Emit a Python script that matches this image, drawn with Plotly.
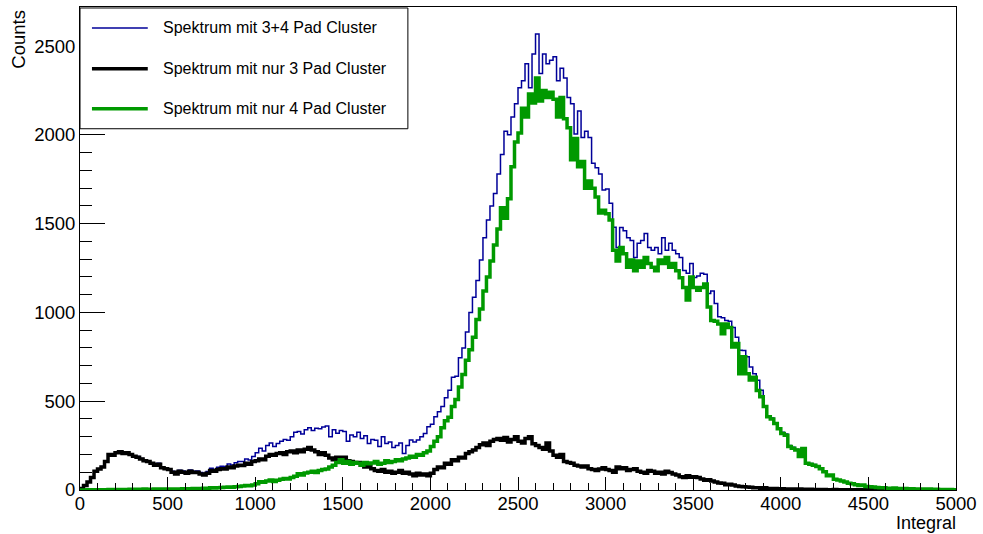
import numpy as np
import plotly.graph_objects as go

# Histogram: 250 bins of width 20 from 0 to 5000
bin_width = 20
x_min, x_max = 0, 5000

spec_34 = [
    8, 25, 46, 71, 107, 119, 132, 162, 203, 197,
    213, 217, 208, 213, 204, 193, 189, 178, 170, 164,
    154, 145, 150, 129, 126, 120, 106, 95, 111, 107,
    101, 112, 106, 107, 99, 95, 104, 122, 116, 128,
    134, 133, 147, 141, 154, 160, 160, 175, 169, 188,
    210, 235, 220, 250, 265, 245, 262, 275, 285, 280,
    300, 325, 330, 315, 340, 350, 335, 348, 345, 355,
    360, 300, 340, 320, 335, 330, 275, 310, 300, 325,
    290, 305, 262, 285, 280, 245, 300, 262, 270, 240,
    250, 265, 206, 250, 281, 270, 281, 300, 318, 356,
    370, 412, 440, 470, 520, 562, 635, 640, 745, 800,
    890, 1000, 1085, 1180, 1295, 1420, 1520, 1600, 1670, 1780,
    1890, 2020, 2000, 2100, 2175, 2265, 2305, 2400, 2265, 2455,
    2568, 2345, 2455, 2400, 2420, 2440, 2305, 2375, 2320, 2210,
    2175, 2005, 2135, 1985, 2020, 1985, 1840, 1815, 1780, 1690,
    1695, 1615, 1480, 1365, 1478, 1460, 1420, 1405, 1310, 1390,
    1405, 1445, 1365, 1350, 1365, 1330, 1420, 1350, 1390, 1350,
    1330, 1310, 1236, 1220, 1276, 1197, 1205, 1220, 1215, 1107,
    1120, 1050, 975, 970, 955, 950, 915, 860, 787, 785,
    750, 693, 655, 618, 562, 470, 415, 405, 378, 350,
    325, 315, 250, 241, 229, 193, 238, 153, 149, 143,
    135, 122, 106, 82, 86, 63, 57, 52, 47, 39,
    36, 32, 27, 29, 21, 18, 18, 15, 12, 14,
    10, 10, 11, 8, 8, 8, 6, 7, 6, 6,
    5, 4, 5, 3, 4, 3, 3, 2, 3, 2,
]

spec_3 = [
    8, 25, 45, 70, 105, 118, 130, 160, 200, 195,
    210, 215, 205, 210, 200, 190, 185, 175, 165, 160,
    150, 140, 145, 125, 120, 115, 100, 90, 105, 100,
    95, 105, 98, 100, 90, 85, 95, 110, 105, 115,
    120, 118, 130, 125, 135, 140, 138, 150, 145, 160,
    165, 175, 170, 190, 200, 195, 205, 210, 200, 215,
    220, 210, 225, 215, 230, 240, 225, 215, 200, 210,
    195, 180, 170, 185, 175, 185, 165, 160, 150, 155,
    140, 130, 135, 120, 110, 105, 115, 100, 105, 95,
    100, 110, 95, 100, 90, 80, 95, 85, 90, 80,
    95, 115, 130, 125, 150, 145, 170, 165, 185, 180,
    205, 215, 225, 240, 255, 265, 250, 275, 285, 290,
    280, 295, 270, 285, 300, 275, 265, 290, 300, 260,
    250, 240, 230, 265, 220, 195, 185, 200, 160, 155,
    150, 140, 135, 130, 135, 120, 115, 110, 118, 125,
    115, 110, 100, 130, 120, 125, 110, 115, 120, 105,
    100, 95, 110, 105, 95, 100, 90, 105, 98, 90,
    85, 75, 70, 80, 72, 75, 70, 62, 55, 58,
    50, 45, 40, 38, 30, 32, 28, 22, 20, 18,
    17, 15, 13, 12, 10, 12, 9, 8, 9, 7,
    7, 6, 5, 6, 4, 5, 4, 3, 4, 3,
    3, 2, 3, 2, 2, 3, 1, 2, 2, 1,
    1, 2, 1, 1, 1, 0, 1, 1, 0, 1,
    0, 1, 0, 0, 1, 0, 0, 0, 1, 0,
    0, 0, 0, 0, 0, 0, 0, 0, 0, 0,
]

spec_4 = [
    0, 0, 1, 1, 2, 1, 2, 2, 3, 2,
    3, 2, 3, 3, 4, 3, 4, 3, 5, 4,
    4, 5, 5, 4, 6, 5, 6, 5, 6, 7,
    6, 7, 8, 7, 9, 10, 9, 12, 11, 13,
    14, 15, 17, 16, 19, 20, 22, 25, 24, 28,
    35, 47, 44, 50, 56, 48, 55, 60, 65, 62,
    70, 78, 92, 85, 96, 100, 105, 98, 110, 115,
    118, 130, 140, 155, 170, 150, 160, 145, 155, 150,
    140, 155, 148, 152, 160, 145, 150, 165, 155, 160,
    170, 165, 175, 180, 190, 185, 200, 195, 210, 220,
    245, 275, 300, 350, 390, 410, 470, 510, 580, 650,
    730, 790, 860, 960, 1020, 1120, 1200, 1290, 1380, 1470,
    1590, 1530, 1640, 1820, 1960, 2010, 2150, 2100, 2230, 2180,
    2320, 2190, 2250, 2210, 2240, 2200, 2100, 2210, 2090, 2040,
    1860, 1980, 1820, 1850, 1700, 1740, 1700, 1650, 1560, 1575,
    1555, 1520, 1350, 1290, 1365, 1330, 1255, 1295, 1235, 1290,
    1255, 1310, 1275, 1255, 1235, 1295, 1275, 1310, 1255, 1275,
    1235, 1195, 1140, 1070, 1200, 1140, 1125, 1140, 1160, 1030,
    955, 950, 935, 880, 935, 915, 805, 825, 655, 750,
    655, 620, 635, 560, 525, 470, 412, 400, 375, 345,
    318, 309, 245, 235, 225, 188, 234, 150, 145, 140,
    132, 120, 103, 80, 84, 60, 56, 50, 45, 38,
    35, 30, 26, 28, 20, 18, 17, 14, 12, 13,
    10, 9, 11, 8, 7, 8, 6, 7, 5, 6,
    5, 4, 5, 3, 4, 3, 3, 2, 3, 2,
]

series_names = [
    "Spektrum mit 3+4 Pad Cluster",
    "Spektrum mit nur 3 Pad Cluster",
    "Spektrum mit nur 4 Pad Cluster",
]
series_colors = ["#000099", "#000000", "#009900"]
series_widths = [1.5, 3.5, 3.5]
series_values = [spec_34, spec_3, spec_4]

x_ticks = list(range(0, 5001, 500))
y_ticks = list(range(0, 2501, 500))
y_max = 2720

edges = np.arange(x_min, x_max + bin_width, bin_width)

fig = go.Figure()
for name, col, w, vals in zip(series_names, series_colors, series_widths, series_values):
    y = list(vals) + [vals[-1]]
    fig.add_trace(go.Scatter(
        x=edges, y=y, mode="lines", name=name,
        line=dict(color=col, width=w, shape="hv"),
        showlegend=False, hoverinfo="skip",
    ))

FONT = "Liberation Sans, Arial, Helvetica, sans-serif"
W, H = 983, 534
ml, mr, mt, mb = 80, 24, 6, 44
pw, ph = W - ml - mr, H - mt - mb

def px_x(p):
    return (p - ml) / pw

def px_y(p):
    return (H - mb - p) / ph

shapes = []
annotations = []
# legend box
shapes.append(dict(type="rect", xref="paper", yref="paper",
                   x0=px_x(80), x1=px_x(409), y0=px_y(128), y1=px_y(7),
                   line=dict(color="black", width=1), fillcolor="white", layer="above"))
for name, col, w, ypix in zip(series_names, series_colors, series_widths, [27, 68, 108]):
    shapes.append(dict(type="line", xref="paper", yref="paper",
                       x0=px_x(92), x1=px_x(148), y0=px_y(ypix), y1=px_y(ypix),
                       line=dict(color=col, width=w), layer="above"))
    annotations.append(dict(xref="paper", yref="paper", x=px_x(161), y=px_y(ypix),
                            xanchor="left", yanchor="middle", text=name, showarrow=False,
                            font=dict(family=FONT, size=16, color="black")))

annotations.append(dict(xref="paper", yref="paper", x=px_x(18), y=px_y(7),
                        xanchor="center", yanchor="top", text="Counts", textangle=-90,
                        showarrow=False, font=dict(family=FONT, size=18.5, color="black")))
annotations.append(dict(xref="paper", yref="paper", x=px_x(960), y=px_y(534),
                        xanchor="right", yanchor="bottom", text="Integral", borderpad=0,
                        showarrow=False, font=dict(family=FONT, size=18, color="black")))

fig.update_layout(
    width=W, height=H,
    margin=dict(l=ml, r=mr, t=mt, b=mb, pad=0),
    paper_bgcolor="white", plot_bgcolor="white",
    font=dict(family=FONT, size=18.5, color="black"),
    shapes=shapes, annotations=annotations,
    showlegend=False,
)
fig.update_xaxes(
    range=[x_min, x_max], tickvals=x_ticks, ticktext=[str(v) for v in x_ticks],
    ticks="inside", ticklen=13, tickwidth=1, tickcolor="black",
    ticklabelstandoff=-3,
    minor=dict(dtick=100, ticks="inside", ticklen=7, tickwidth=1, tickcolor="black", showgrid=False),
    showline=True, linecolor="black", linewidth=1, mirror=True,
    showgrid=False, zeroline=False,
    tickfont=dict(family=FONT, size=18.5, color="black"),
)
fig.update_yaxes(
    range=[0, y_max], tickvals=y_ticks, ticktext=[str(v) for v in y_ticks],
    ticks="inside", ticklen=25, tickwidth=1, tickcolor="black",
    minor=dict(dtick=100, ticks="inside", ticklen=12, tickwidth=1, tickcolor="black", showgrid=False),
    showline=True, linecolor="black", linewidth=1, mirror=True,
    showgrid=False, zeroline=False,
    tickfont=dict(family=FONT, size=18.5, color="black"),
)

fig.write_html("out.html")
